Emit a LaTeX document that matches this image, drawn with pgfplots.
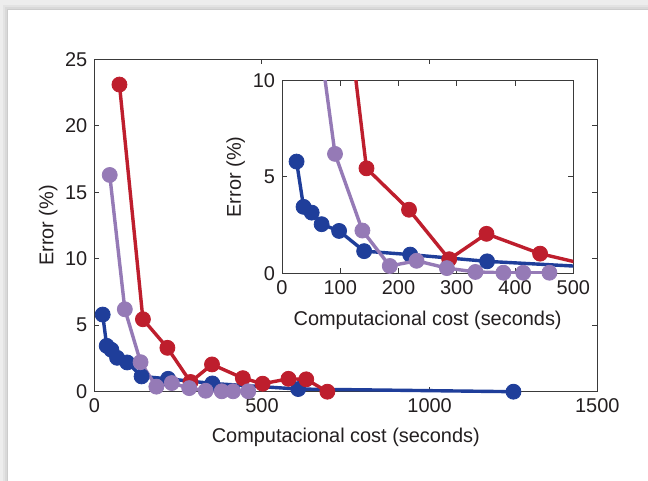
\documentclass[border=0pt]{standalone}
\usepackage{pgfplots}
\pgfplotsset{compat=1.18}
\usepackage{pgfplotstable}
\usepackage{fontspec}
\setmainfont{Liberation Sans}
\definecolor{cred}{HTML}{BE1E2D}
\definecolor{cblue}{HTML}{1F3E9A}
\definecolor{cpurple}{HTML}{957AB6}
\definecolor{axgray}{HTML}{3A3A3A}
\definecolor{txt}{HTML}{231F20}

% cost (s) vs error (%)
\pgfplotstableread{
x y
25 5.8
37 3.45
51 3.15
68 2.55
98 2.2
141 1.15
220 0.97
352 0.62
608 0.2
1250 0
}\blueT
\pgfplotstableread{
x y
75 23.1
145 5.45
218 3.3
287 0.73
351 2.05
443 1.02
502 0.6
579 0.97
632 0.93
695 0
}\redT
\pgfplotstableread{
x y
46 16.3
91 6.2
138 2.22
185 0.38
231 0.65
283 0.27
332 0.07
380 0.03
414 0.03
459 0.03
}\purpT

\pgfplotsset{
  common/.style={
    scale only axis,
    tick align=inside,
    major tick length=2.5bp,
    axis line style={draw=axgray,line width=0.5bp},
    tick style={draw=axgray,line width=0.5bp},
    tick label style={font=\fontsize{10}{12}\selectfont,text=txt},
    label style={font=\fontsize{10}{12}\selectfont,text=txt},
    /pgf/number format/assume math mode=true,
    /pgf/number format/1000 sep={},
    xlabel={Computacional cost (seconds)},
    ylabel={Error (\%)},
    ylabel style={yshift=-3bp},
  },
  ln/.style={color=#1,line width=1.7bp,line join=round,no markers},
  mk/.style={color=#1,only marks,mark=*,mark size=3.75bp,mark options={draw=none,fill=#1}},
}

\begin{document}
\begin{tikzpicture}
% frame with shadow
\fill[gray!14] (0,0) rectangle (324bp,240.5bp);
\fill[gray!22] (1.5bp,0) rectangle (324bp,238.2bp);
\fill[gray!30] (2.5bp,0) rectangle (324bp,237bp);
\fill[gray!40] (3.3bp,0) rectangle (324bp,236.2bp);
\fill[white] (4bp,0) rectangle (324bp,235.5bp);

\begin{axis}[common,
  at={(47.15bp,44.65bp)}, anchor=south west,
  width=251.5bp, height=166.2bp,
  xmin=0, xmax=1500, ymin=0, ymax=25,
  xtick={0,500,1000,1500}, ytick={0,5,10,15,20,25},
  xlabel style={yshift=-1bp},
  clip=false,
]
\addplot[ln=cblue] table {\blueT};
\addplot[mk=cblue] table {\blueT};
\addplot[ln=cred] table {\redT};
\addplot[mk=cred] table {\redT};
\addplot[ln=cpurple] table {\purpT};
\addplot[mk=cpurple] table {\purpT};
\end{axis}

\begin{axis}[common,
  at={(141bp,103.85bp)}, anchor=south west,
  width=145.65bp, height=96.3bp,
  xmin=0, xmax=500, ymin=0, ymax=10,
  xtick={0,100,200,300,400,500}, ytick={0,5,10},
  xlabel style={yshift=-1.5bp},
  clip mode=individual,
]
\addplot[ln=cblue] table {\blueT};
\addplot[mk=cblue,restrict x to domain=0:500,restrict y to domain=0:10] table {\blueT};
\addplot[ln=cred] table {\redT};
\addplot[mk=cred,restrict x to domain=0:500,restrict y to domain=0:10] table {\redT};
\addplot[ln=cpurple] table {\purpT};
\addplot[mk=cpurple,restrict x to domain=0:500,restrict y to domain=0:10] table {\purpT};
\end{axis}
\end{tikzpicture}
\end{document}
